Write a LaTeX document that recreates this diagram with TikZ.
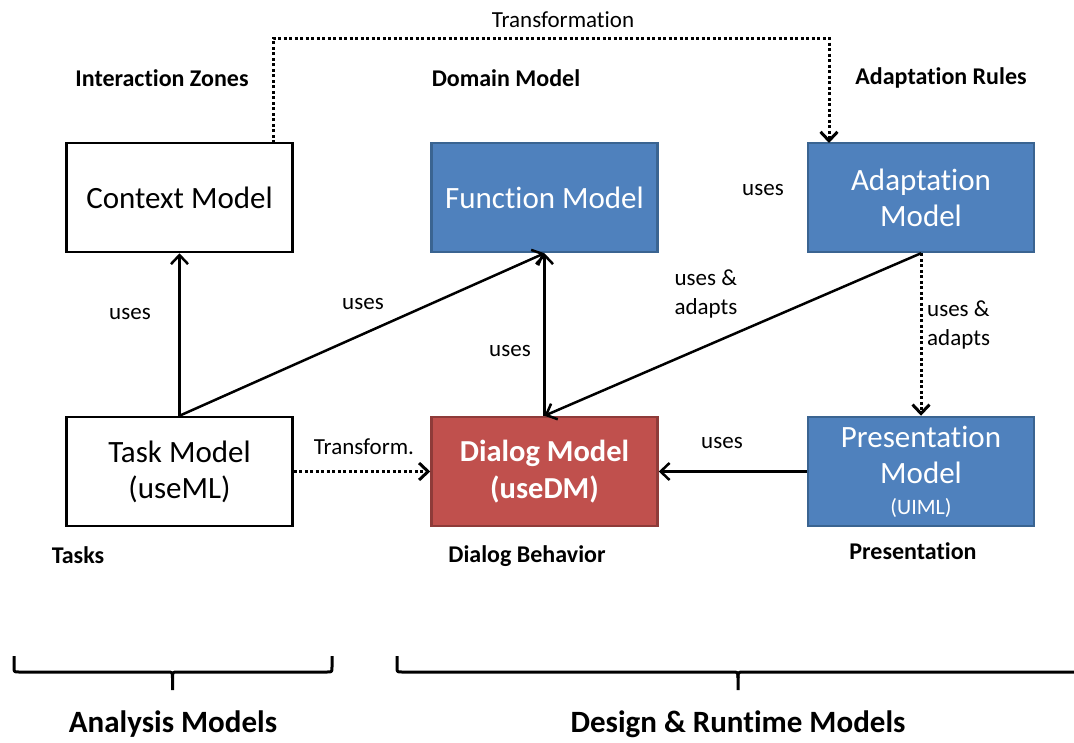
\documentclass[tikz,border=0pt]{standalone}
\usepackage{fontspec}
\setmainfont{Carlito}[Ligatures=NoCommon]
\usetikzlibrary{arrows.meta}

\definecolor{bluefill}{HTML}{4F81BD}
\definecolor{blueedge}{HTML}{3A6491}
\definecolor{redfill}{HTML}{C0504D}
\definecolor{rededge}{HTML}{8E3B39}

\tikzset{
  box/.style={rectangle, minimum width=226pt, minimum height=109pt, inner sep=0pt,
    line width=2.5pt, align=center, font=\fontsize{31}{36}\selectfont},
  plainbox/.style={box, draw=black, fill=white},
  bluebox/.style={box, draw=blueedge, fill=bluefill, text=white},
  redbox/.style={box, draw=rededge, fill=redfill, text=white,
    font=\bfseries\fontsize{30.5}{37}\selectfont},
  lbl/.style={inner sep=0pt, align=left, font=\fontsize{23}{29}\selectfont},
  head/.style={inner sep=0pt, font=\bfseries\fontsize{24}{27}\selectfont},
  group/.style={inner sep=0pt, font=\bfseries\fontsize{31}{34}\selectfont},
  conn/.style={line width=2.5pt, -{Straight Barb[length=9pt,width=17pt]}},
  dotconn/.style={conn, line width=3pt, dash pattern=on 3pt off 2.5pt},
  brace/.style={line width=3pt, line cap=butt, line join=round},
}

\begin{document}
\begin{tikzpicture}[x=1pt, y=-1pt]
  \useasboundingbox (0,0) rectangle (1074,742);
  \clip (0,0) rectangle (1074,742);

  % model boxes
  \node[plainbox] (ctx)   at (179.5,197.5) {Context Model};
  \node[bluebox]  (func)  at (544.5,197.5) {Function Model};
  \node[bluebox]  (adapt) at (921,197.5)   {Adaptation\\Model};
  \node[plainbox] (task)  at (179.5,471.5) {Task Model\\(useML)};
  \node[redbox]   (dlg)   at (544.5,471.5) {Dialog Model\\(useDM)};
  \node[bluebox]  (pres)  at (921,471.5)
    {Presentation\\Model\\[-5pt]{\fontsize{22}{24}\selectfont (UIML)}};

  % group headings
  \node[head] (hzones)  at (162,78)  {Interaction Zones};
  \node[head] (hdomain) at (506,78)  {Domain Model};
  \node[head] (hrules)  at (941,78)  {Adaptation Rules};
  \node[head] (htasks)  at (78,555)  {Tasks};
  \node[head] (hdialog) at (527,556) {Dialog Behavior};
  \node[head] (hpres)   at (913,551) {Presentation};

  % connectors
  \draw[conn] (task.north) -- (ctx.south);
  \draw[conn] (task.north) -- (func.south);
  \draw[conn] (dlg.north) -- (func.south);
  \draw[conn] (adapt.south) -- (dlg.north);
  \draw[conn] (pres.west) -- (dlg.east);
  \draw[dotconn] (task.east) -- (dlg.west);
  \draw[dotconn] (adapt.south) -- (pres.north);

  \coordinate (tr0) at (273,143);
  \coordinate (tr1) at (273,38);
  \coordinate (tr2) at (829,38);
  \coordinate (tr3) at (829,143);
  \draw[dotconn] (tr0) -- (tr1) -- (tr2) -- (tr3);

  % connector labels
  \node[lbl] (ltrans)  at (563,20)  {Transformation};
  \node[lbl] (luses1)  at (130,314) {uses};
  \node[lbl] (luses2)  at (363,304) {uses};
  \node[lbl] (luses3)  at (510,351) {uses};
  \node[lbl] (luses4)  at (763,190) {uses};
  \node[lbl] (luses5)  at (722,443) {uses};
  \node[lbl] (ltransf) at (364,447) {Transform.};
  \node[lbl] (lua1)    at (706,294) {uses \&\\adapts};
  \node[lbl, anchor=west] (lua2) at (927,325) {uses \&\\adapts};

  % braces grouping the models
  \draw[brace] (14,656) -- (14,667) .. controls (14,672) .. (19,672) -- (167,672)
    .. controls (172.5,672) .. (172.5,678) -- (172.5,690);
  \draw[brace] (332,656) -- (332,667) .. controls (332,672) .. (327,672) -- (178,672)
    .. controls (172.5,672) .. (172.5,678);
  \draw[brace] (397,656) -- (397,667) .. controls (397,672) .. (402,672) -- (732,672)
    .. controls (738,672) .. (738,678) -- (738,690);
  \draw[brace] (1079,656) -- (1079,667) .. controls (1079,672) .. (1074,672) -- (744,672)
    .. controls (738,672) .. (738,678);

  \node[group] (ganalysis) at (173,724) {Analysis Models};
  \node[group] (gdesign)   at (738,724) {Design \& Runtime Models};
\end{tikzpicture}
\end{document}
